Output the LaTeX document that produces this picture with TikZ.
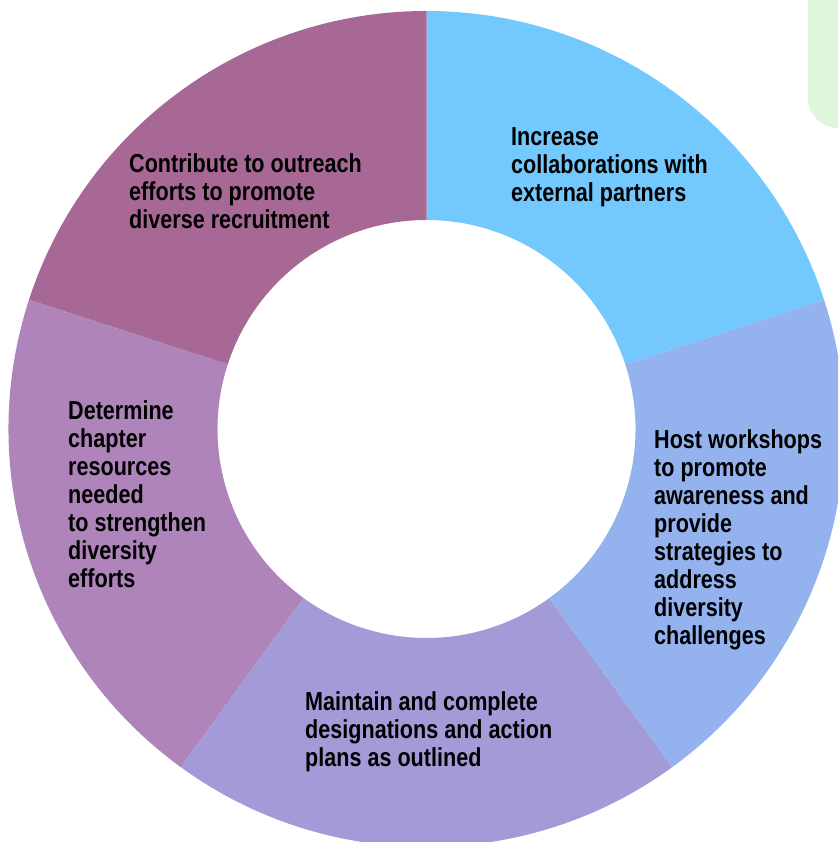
\documentclass[tikz,border=0pt]{standalone}
\usepackage{fontspec}
\newfontfamily\lblfont[FakeStretch=0.83]{Liberation Sans}
\definecolor{segblue}{HTML}{73C9FD}
\definecolor{segperi}{HTML}{94B3EE}
\definecolor{seglav}{HTML}{A39BD8}
\definecolor{seglilac}{HTML}{AE84BB}
\definecolor{segmauve}{HTML}{A86895}
\definecolor{cornergreen}{HTML}{DFF5DC}
\tikzset{
  lbl/.style={anchor=north west, inner sep=0pt, align=left, text=black,
    font=\lblfont\bfseries\fontsize{26}{28}\selectfont}
}
\newcommand{\ringseg}[3]{%
  \fill[#1] (426.5,413) ++(#2:418) arc[start angle=#2, end angle=#3, radius=418]
    -- ($(426.5,413)+(#3:209)$) arc[start angle=#3, end angle=#2, radius=209] -- cycle;}
\usetikzlibrary{calc}
\begin{document}
\begin{tikzpicture}[x=1pt,y=1pt]
\useasboundingbox (0,0) rectangle (838,842);
\clip (0,0) rectangle (838,842);
\fill[cornergreen, rounded corners=30pt] (808,900) rectangle (880,714);
\ringseg{segblue}{18}{90}
\ringseg{segmauve}{90}{162}
\ringseg{seglilac}{162}{234}
\ringseg{seglav}{234}{306}
\ringseg{segperi}{306}{378}
\node[lbl] (t1) at (511,842-127) {Increase\\collaborations with\\external partners};
\node[lbl] (t2) at (654,842-429) {Host workshops\\to promote\\awareness and\\provide\\strategies to\\address\\diversity\\challenges};
\node[lbl] (t3) at (305,842-691) {Maintain and complete\\designations and action\\plans as outlined};
\node[lbl] (t4) at (68,842-400) {Determine\\chapter\\resources\\needed\\to strengthen\\diversity\\efforts};
\node[lbl] (t5) at (129,842-153) {Contribute to outreach\\efforts to promote\\diverse recruitment};
\end{tikzpicture}
\end{document}
